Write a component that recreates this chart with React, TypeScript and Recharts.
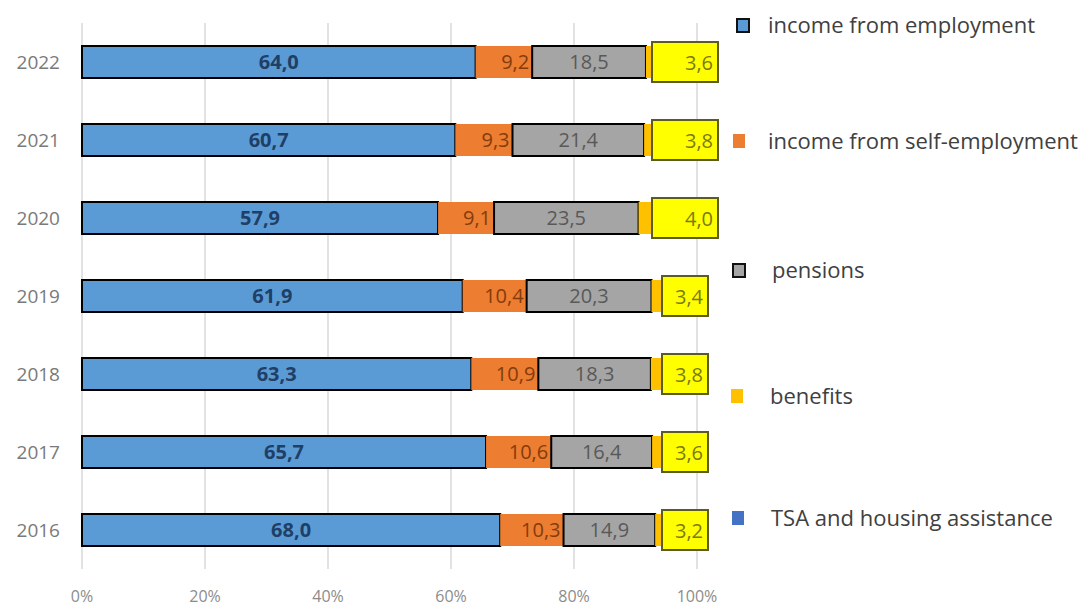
import React from 'react';
import { BarChart, Bar, XAxis, YAxis, CartesianGrid, LabelList } from 'recharts';

// shares of household income, %
const years = ['2016', '2017', '2018', '2019', '2020', '2021', '2022'];
const employment = [68.0, 65.7, 63.3, 61.9, 57.9, 60.7, 64.0];
const selfEmployment = [10.3, 10.6, 10.9, 10.4, 9.1, 9.3, 9.2];
const pensions = [14.9, 16.4, 18.3, 20.3, 23.5, 21.4, 18.5];
const benefits = [3.2, 3.6, 3.8, 3.4, 4.0, 3.8, 3.6];
const tsa = [3.6, 3.7, 3.7, 4.0, 5.5, 4.8, 4.7];
const xTicks = [0, 20, 40, 60, 80, 100];

const data = years.map((year, i) => ({
  year,
  employment: employment[i],
  selfEmployment: selfEmployment[i],
  pensions: pensions[i],
  benefits: benefits[i],
  tsa: tsa[i],
}));

const FONT = '"Open Sans", "Noto Sans", sans-serif';
const wideBoxYears = ['2020', '2021', '2022'];

const fmt = (v: any) => Number(v).toFixed(1).replace('.', ',');

// yellow callout box with the benefits value, drawn at the end of the bar
function BenefitsBox(props: any) {
  const { x, y, width, height, index } = props;
  const end = Number(x) + Number(width);
  const cx = end - 12;
  const wide = wideBoxYears.includes(years[index]);
  const w = wide ? 66 : 46;
  const h = 40;
  const cy = Number(y) + Number(height) / 2;
  return (
    <g>
      <rect x={cx - w / 2} y={cy - h / 2} width={w} height={h} fill="#ffff00" stroke="#5c5c22" strokeWidth={2} />
      <text x={cx + w / 2 - 5} y={cy} textAnchor="end" dominantBaseline="central" fill="#7a7a10" fontSize={20} fontFamily={FONT}>
        {fmt(benefits[index])}
      </text>
    </g>
  );
}

const legendItems = [
  { label: 'income from employment', color: '#5b9bd5', border: true, top: 25, iconX: 736, textX: 768 },
  { label: 'income from self-employment', color: '#ed7d31', border: false, top: 141, iconX: 733, textX: 768 },
  { label: 'pensions', color: '#a5a5a5', border: true, top: 270, iconX: 732, textX: 772 },
  { label: 'benefits', color: '#ffc000', border: false, top: 396, iconX: 731, textX: 770 },
  { label: 'TSA and housing assistance', color: '#4472c4', border: false, top: 518, iconX: 732, textX: 771 },
];

export default function App() {
  return (
    <div style={{ position: 'absolute', left: 0, top: 0, width: 1085, height: 610, background: '#fff', fontFamily: FONT }}>
      <BarChart
        width={1085}
        height={610}
        data={data}
        layout="vertical"
        margin={{ top: 23, right: 388, bottom: 0, left: 0 }}
        barSize={32}
      >
        <CartesianGrid horizontal={false} stroke="#d9d9d9" strokeWidth={1.5} />
        <XAxis
          type="number"
          domain={[0, 100]}
          ticks={xTicks}
          tickFormatter={(v) => `${v}%`}
          axisLine={false}
          tickLine={false}
          tickSize={0}
          tickMargin={22}
          height={41}
          tick={{ fill: '#8c8c8c', fontSize: 16, fontFamily: FONT }}
        />
        <YAxis
          type="category"
          dataKey="year"
          reversed
          width={82}
          axisLine={false}
          tickLine={false}
          tickSize={0}
          tickMargin={22}
          tick={{ fill: '#7a7a7a', fontSize: 19, fontFamily: FONT }}
        />
        <Bar dataKey="employment" stackId="a" fill="#5b9bd5" stroke="#000" strokeWidth={2} isAnimationActive={false}>
          <LabelList dataKey="employment" position="center" formatter={fmt} fill="#1f3f66" fontSize={20} fontWeight="bold" fontFamily={FONT} />
        </Bar>
        <Bar dataKey="selfEmployment" stackId="a" fill="#ed7d31" isAnimationActive={false}>
          <LabelList dataKey="selfEmployment" position="insideRight" offset={3} formatter={fmt} fill="#843c0c" fontSize={20} fontFamily={FONT} />
        </Bar>
        <Bar dataKey="pensions" stackId="a" fill="#a5a5a5" stroke="#000" strokeWidth={2} isAnimationActive={false}>
          <LabelList dataKey="pensions" position="center" formatter={fmt} fill="#595959" fontSize={20} fontFamily={FONT} />
        </Bar>
        <Bar dataKey="benefits" stackId="a" fill="#ffc000" isAnimationActive={false} />
        <Bar dataKey="tsa" stackId="a" fill="#4472c4" isAnimationActive={false}>
          <LabelList dataKey="tsa" content={<BenefitsBox />} />
        </Bar>
      </BarChart>
      {legendItems.map((item) => (
        <React.Fragment key={item.label}>
          <div
            style={{
              position: 'absolute',
              left: item.iconX,
              top: item.top - 7,
              width: item.border ? 10 : 12,
              height: item.border ? 11 : 14,
              background: item.color,
              border: item.border ? '2px solid #111' : 'none',
            }}
          />
          <div
            style={{
              position: 'absolute',
              left: item.textX,
              top: item.top - 16,
              lineHeight: '30px',
              fontSize: 22,
              color: '#404040',
              whiteSpace: 'nowrap',
            }}
          >
            {item.label}
          </div>
        </React.Fragment>
      ))}
    </div>
  );
}
